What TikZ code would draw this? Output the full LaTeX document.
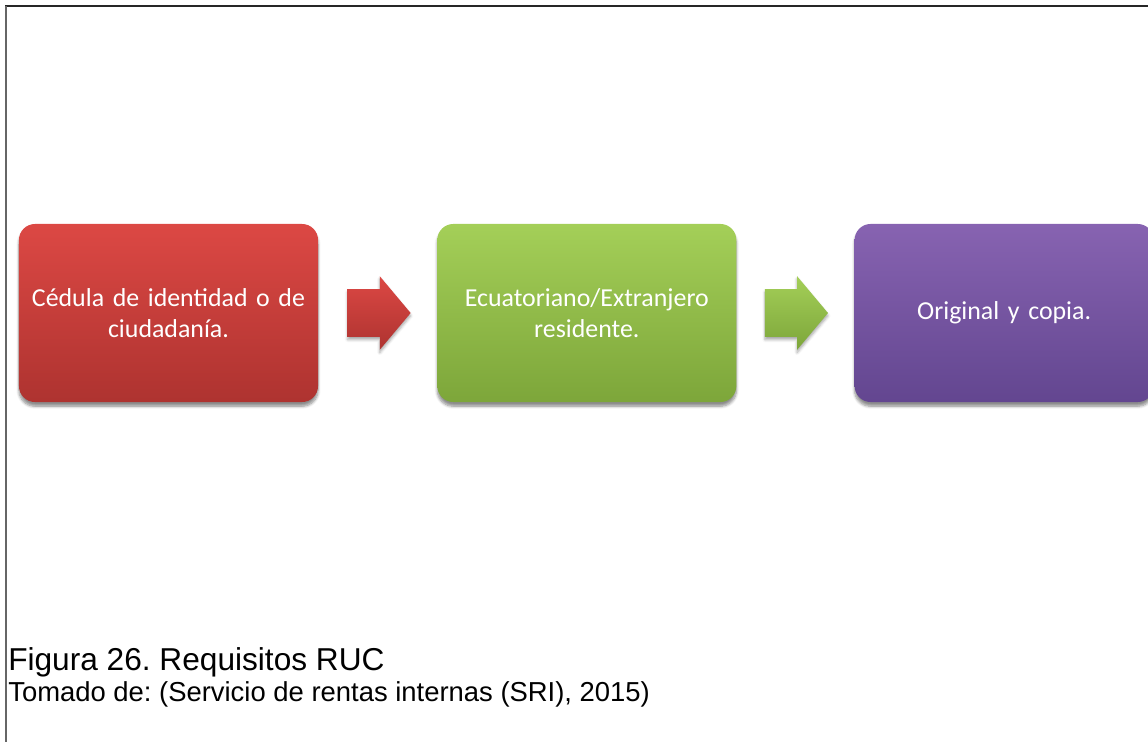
\documentclass[tikz,border=0pt]{standalone}
\usepackage{fontspec}
\setmainfont{Carlito}
\newfontfamily\arialfont{Liberation Sans}
\usetikzlibrary{positioning,shapes.arrows,shadows.blur}
\frenchspacing

\definecolor{rojoA}{HTML}{DC4844}
\definecolor{rojoB}{HTML}{AE3330}
\definecolor{verdeA}{HTML}{A4CF58}
\definecolor{verdeB}{HTML}{7DA63A}
\definecolor{moradoA}{HTML}{8763B1}
\definecolor{moradoB}{HTML}{634690}

\begin{document}
\begin{tikzpicture}[x=0.025cm,y=-0.025cm,
	reqbox/.style={rectangle, rounded corners=0.4cm, minimum width=7.475cm, minimum height=4.45cm,
		text width=7cm, align=center, text=white, font=\fontsize{18.4}{21.5}\selectfont,
		blur shadow={shadow xshift=0pt, shadow yshift=-3pt, shadow blur steps=6, shadow opacity=45}},
	flecha/.style={single arrow, minimum height=1.575cm, inner xsep=0pt, inner ysep=0.5875cm,
		single arrow head extend=0.325cm, single arrow tip angle=100,
		blur shadow={shadow xshift=0pt, shadow yshift=-2pt, shadow blur steps=4, shadow opacity=35}},
	]
	\useasboundingbox (0,0) rectangle (1148,742);
	
	% marco
	\draw[line width=1.5pt, black!85] (5,6) -- (1148,6);
	\draw[line width=1.5pt, black!60] (6,6) -- (6,742);
	
	% pasos
	\node[reqbox, top color=rojoA, bottom color=rojoB] (cedula) at (168.5,313) {C\'edula de identidad o de\\ciudadan\'ia.};
	\node[flecha, top color=rojoA, bottom color=rojoB, right=0.725cm of cedula] (f1) {};
	\node[reqbox, top color=verdeA, bottom color=verdeB, right=0.65cm of f1] (ecuat) {Ecuatoriano/Extranjero\\residente.};
	\node[flecha, top color=verdeA, bottom color=verdeB, right=0.7cm of ecuat] (f2) {};
	\node[reqbox, top color=moradoA, bottom color=moradoB, right=0.65cm of f2] (copia) {Original y copia.};
	
	% pie de figura
	\node[anchor=base west, inner sep=0pt, font=\arialfont\fontsize{22.5}{26}\selectfont] (figura) at (8,670) {Figura 26. Requisitos RUC};
	\node[anchor=base west, inner sep=0pt, font=\arialfont\fontsize{19.5}{23}\selectfont] (fuente) at (8,701) {Tomado de: (Servicio de rentas internas (SRI), 2015)};
	
\end{tikzpicture}
\end{document}
